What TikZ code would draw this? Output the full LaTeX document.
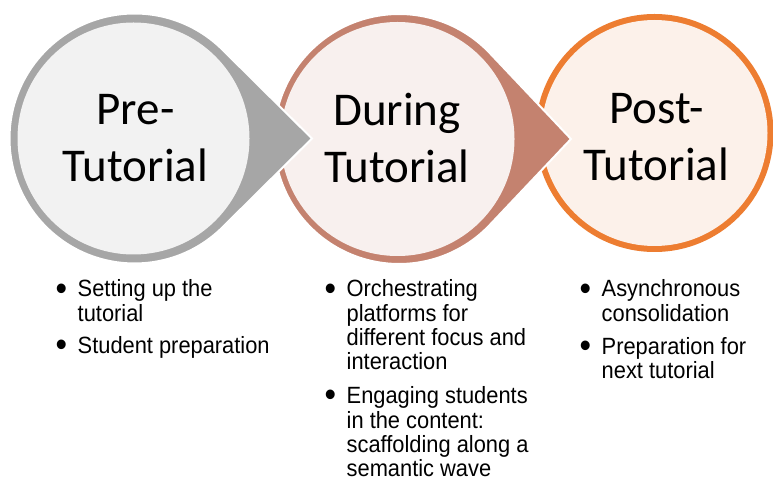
\documentclass[tikz,border=0pt]{standalone}
\usepackage{fontspec}
\usetikzlibrary{calc}
\newfontfamily\titlefont{Carlito}
\newfontfamily\bodyfont[FakeStretch=0.93]{Liberation Sans}
\definecolor{ringA}{HTML}{A6A6A6}
\definecolor{fillA}{HTML}{F2F2F2}
\definecolor{ringB}{HTML}{C4826F}
\definecolor{fillB}{HTML}{F8F0EE}
\definecolor{ringC}{HTML}{ED7D31}
\definecolor{fillC}{HTML}{FCF1EA}
\tikzset{
  title/.style={align=center, inner sep=0pt, text=black,
    font=\titlefont\fontsize{47}{57}\selectfont},
  column/.style={anchor=base west, inner sep=0pt, text=black,
    font=\bodyfont\fontsize{23.5}{24.3}\selectfont},
  teardrop/.style={draw=white, line width=2pt}
}
\newcommand{\bul}{\makebox[20.5pt][l]{\hspace*{-1.5pt}\raisebox{-3.2pt}{\scalebox{1.5}{\textbullet}}}}
\newcommand{\ind}{\hspace*{20.5pt}}
\begin{document}
\begin{tikzpicture}[x=1pt,y=1pt]
\fill[white] (0,0) rectangle (773,482);
\useasboundingbox (0,0) rectangle (773,482);
\coordinate (c1) at (134.5,343.5);
\coordinate (c2) at (399,343);
\coordinate (c3) at (654.5,349);
\coordinate (t1) at (312,343.5);
\coordinate (t2) at (571,343);
% circle 3
\fill[ringC] (c3) circle[radius=119];
\fill[fillC] (c3) circle[radius=113];
% circle 2 teardrop
\path[teardrop, fill=ringB] (t2) -- ($(c2)+(43.9:125)$) arc[start angle=43.9, end angle=316.1, radius=125] -- cycle;
\fill[fillB] ($(c2)+(-1.5,0)$) circle[radius=117];
% circle 1 teardrop
\path[teardrop, fill=ringA] (t1) -- ($(c1)+(45.7:125)$) arc[start angle=45.7, end angle=314.3, radius=125] -- cycle;
\fill[fillA] ($(c1)+(-1,0)$) circle[radius=116];
% titles
\node[title] (pre) at (135.5,343.5) {Pre-\\Tutorial};
\node[title] (during) at (397,343.5) {During\\Tutorial};
\node[title] (post) at (656.5,345) {Post-\\Tutorial};
% bullet columns
\node[column] (colA) at (57,185) {\begin{tabular}[t]{@{}l@{}}
\bul Setting up the\\
\ind tutorial\\[8pt]
\bul Student preparation
\end{tabular}};
\node[column] (colB) at (326,185) {\begin{tabular}[t]{@{}l@{}}
\bul Orchestrating\\
\ind platforms for\\
\ind different focus and\\
\ind interaction\\[9.5pt]
\bul Engaging students\\
\ind in the content:\\
\ind scaffolding along a\\
\ind semantic wave
\end{tabular}};
\node[column] (colC) at (581,185) {\begin{tabular}[t]{@{}l@{}}
\bul Asynchronous\\
\ind consolidation\\[9pt]
\bul Preparation for\\
\ind next tutorial
\end{tabular}};
\end{tikzpicture}
\end{document}
